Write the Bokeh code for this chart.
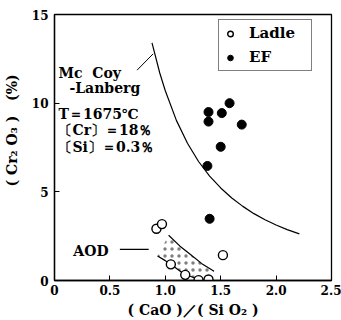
from bokeh.plotting import figure
from bokeh.models import Range1d, Legend, LegendItem, Label, FixedTicker
from bokeh.core.properties import value
from bokeh.embed import file_html
from bokeh.resources import INLINE

# ---- data ----
ladle_x = [0.92, 0.97, 1.05, 1.18, 1.30, 1.39, 1.52]
ladle_y = [2.92, 3.18, 0.91, 0.32, 0.02, 0.06, 1.43]
ef_x = [1.58, 1.39, 1.51, 1.39, 1.69, 1.50, 1.38, 1.40]
ef_y = [10.0, 9.5, 9.44, 8.96, 8.79, 7.54, 6.46, 3.48]

mccoy_x = [0.88, 0.95, 1.0, 1.1, 1.2, 1.3, 1.4, 1.5, 1.6, 1.7, 1.8, 1.9, 2.0, 2.1, 2.21]
mccoy_y = [13.4, 11.7, 10.7, 9.03, 7.74, 6.71, 5.89, 5.22, 4.65, 4.18, 3.77, 3.43, 3.13, 2.87, 2.63]

aod_up_x = [1.03, 1.13, 1.23, 1.33, 1.44]
aod_up_y = [2.55, 1.95, 1.45, 0.95, 0.52]
aod_lo_x = [0.93, 1.0, 1.05, 1.15, 1.22, 1.29, 1.34]
aod_lo_y = [1.38, 1.12, 0.92, 0.45, 0.25, 0.07, 0.0]

mccoy_leader_x = [0.745, 0.89]
mccoy_leader_y = [11.86, 12.78]
aod_leader_x = [0.59, 0.85]
aod_leader_y = [1.75, 1.75]

x_ticks = [0, 0.5, 1, 1.5, 2, 2.5]
x_tick_labels = ["0", "0.5", "1.0", "1.5", "2.0", "2.5"]
y_ticks = [0, 5, 10, 15]
y_tick_labels = ["0", "5", "10", "15"]

NB = "\u00a0"
note_texts = ["Mc" + NB * 2 + "Coy", "-Lanberg", "T＝1675℃", "〔Cr〕＝18％", "〔Si〕＝0.3％"]
note_x = [0.036, 0.135, 0.036, 0.036, 0.036]
note_y = [11.7, 10.88, 9.37, 8.48, 7.53]
aod_text = "AOD"
aod_text_x = 0.17
aod_text_y = 1.65
x_label = "(" + NB + "CaO" + NB + ")／(" + NB + "Si" + NB + "O₂" + NB + ")"
y_label = NB * 7 + "(" + NB + "Cr₂" + NB + "O₃" + NB + ")" + NB * 3 + "(%)"

FONT = "DejaVu Serif"

p = figure(width=341, height=320, output_backend="svg", toolbar_location=None,
           x_range=Range1d(0, 2.5), y_range=Range1d(0, 15),
           min_border_left=54, min_border_right=10, min_border_top=14, min_border_bottom=37)
p.background_fill_color = "white"
p.border_fill_color = "white"
p.outline_line_color = "black"
p.outline_line_width = 1.3
p.grid.visible = False

for ax in (p.xaxis[0], p.yaxis[0]):
    ax.major_label_text_font = FONT
    ax.major_label_text_font_style = "bold"
    ax.major_label_text_font_size = "12px"
    ax.major_label_text_color = "black"
    ax.axis_label_text_font = FONT
    ax.axis_label_text_font_style = "bold"
    ax.axis_label_text_font_size = "14px"
    ax.axis_label_text_color = "black"
    ax.major_tick_in = 5
    ax.major_tick_out = 0
    ax.minor_tick_line_color = None
    ax.axis_line_color = "black"
    ax.axis_line_width = 1.3
    ax.major_tick_line_color = "black"

p.xaxis[0].ticker = FixedTicker(ticks=x_ticks)
p.xaxis[0].major_label_overrides = {t: l for t, l in zip(x_ticks, x_tick_labels)}
p.yaxis[0].ticker = FixedTicker(ticks=y_ticks)
p.yaxis[0].major_label_overrides = {t: l for t, l in zip(y_ticks, y_tick_labels)}
p.xaxis[0].axis_label = x_label
p.yaxis[0].axis_label = y_label
p.xaxis[0].major_label_standoff = 4
p.xaxis[0].axis_label_standoff = 4
p.yaxis[0].major_label_standoff = 6
p.yaxis[0].axis_label_standoff = 9

# stippled AOD band
band_x = aod_up_x + aod_lo_x[::-1]
band_y = aod_up_y + aod_lo_y[::-1]
p.patch(band_x, band_y, fill_alpha=0, line_alpha=0, hatch_pattern="dot",
        hatch_color="black", hatch_scale=7, hatch_alpha=0.5)
p.line(aod_up_x, aod_up_y, line_color="black", line_width=1.2)
p.line(aod_lo_x, aod_lo_y, line_color="black", line_width=1.2)

p.line(mccoy_x, mccoy_y, line_color="black", line_width=1.2)
p.line(mccoy_leader_x, mccoy_leader_y, line_color="black", line_width=1)
p.line(aod_leader_x, aod_leader_y, line_color="black", line_width=1.2)

r_ladle = p.scatter(ladle_x, ladle_y, marker="circle", size=9, fill_color="white",
                    line_color="black", line_width=1.4)
r_ef = p.scatter(ef_x, ef_y, marker="circle", size=9, fill_color="black",
                 line_color="black")

for t, x, y in zip(note_texts, note_x, note_y):
    p.add_layout(Label(x=x, y=y, text=t, text_font=FONT, text_font_style="bold",
                       text_font_size="14px", text_baseline="middle", text_color="black"))
p.add_layout(Label(x=aod_text_x, y=aod_text_y, text=aod_text, text_font=FONT,
                   text_font_style="bold", text_font_size="14px",
                   text_baseline="middle", text_color="black"))

legend = Legend(items=[LegendItem(label="Ladle", renderers=[r_ladle]),
                       LegendItem(label="EF", renderers=[r_ef])],
                location=(164, 209))
legend.label_text_font = FONT
legend.label_text_font_style = "bold"
legend.label_text_font_size = "15px"
legend.label_text_color = "black"
legend.border_line_color = "black"
legend.border_line_width = 1
legend.background_fill_color = "white"
legend.background_fill_alpha = 1
legend.padding = 4
legend.spacing = 6
legend.margin = 0
legend.glyph_width = 14
legend.glyph_height = 15
legend.label_height = 15
legend.label_width = 58
legend.label_standoff = 12
p.add_layout(legend, "center")

open("out.html", "w").write(file_html(p, INLINE))
